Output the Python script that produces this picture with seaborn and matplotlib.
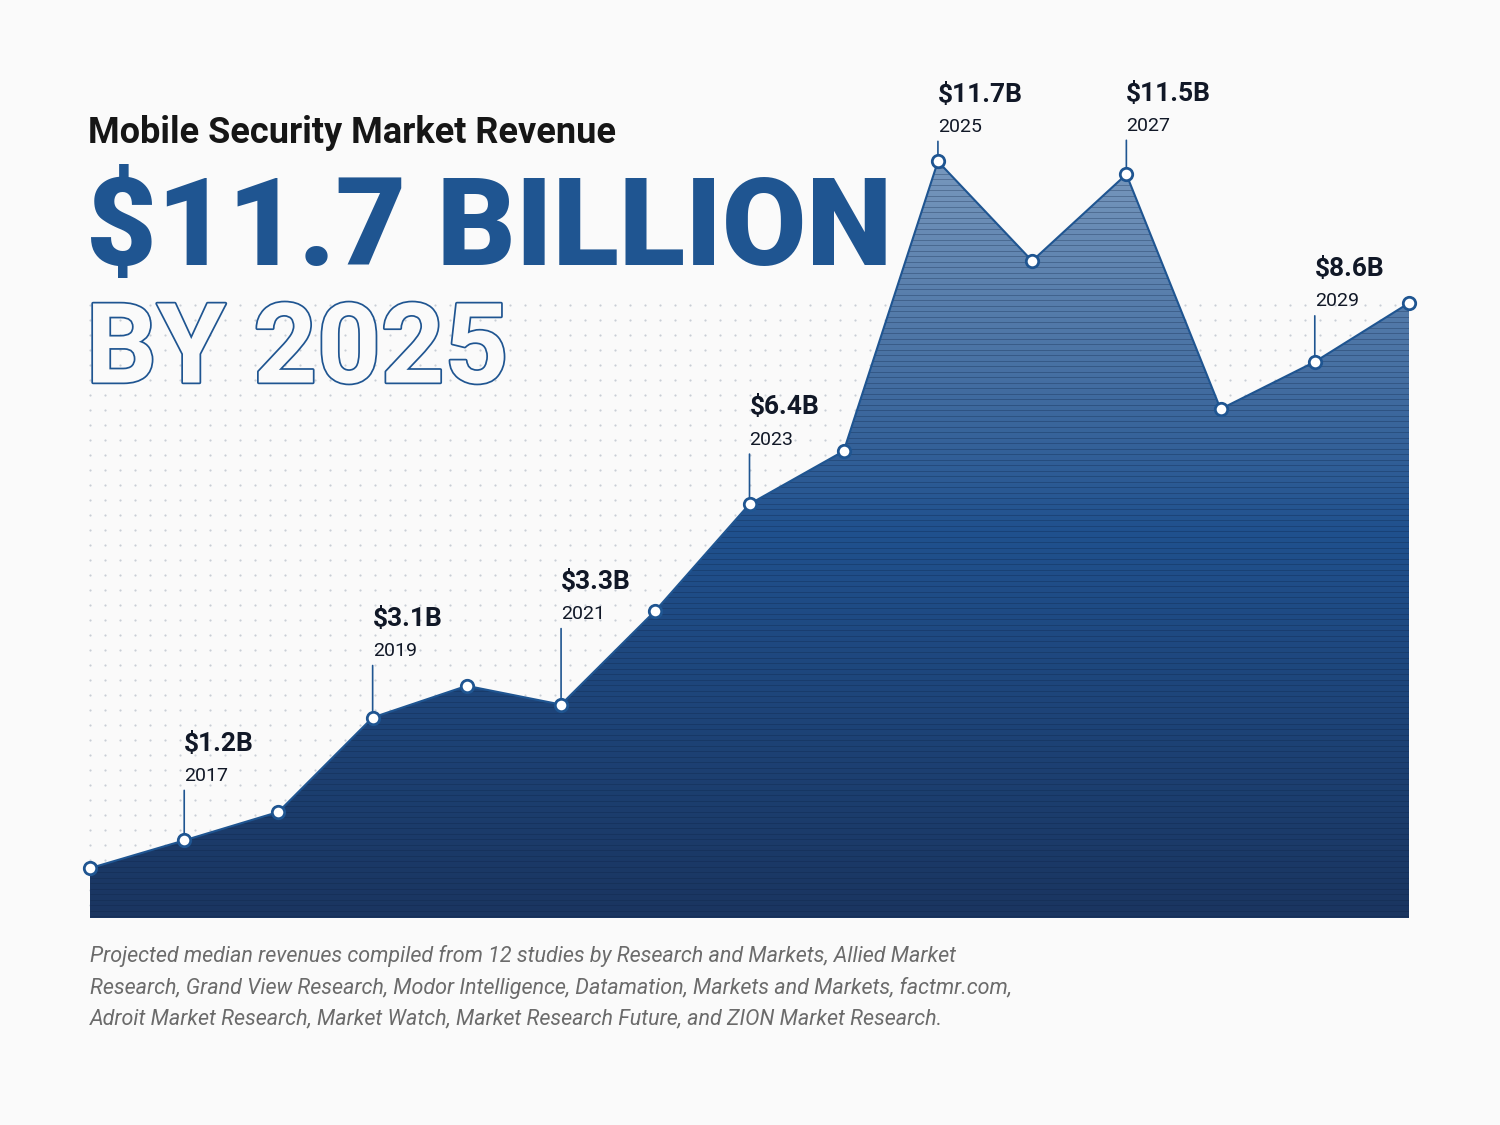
import numpy as np
import matplotlib.pyplot as plt
import matplotlib.patheffects as pe
from matplotlib.colors import LinearSegmentedColormap
import seaborn as sns

# data
years = list(range(2016, 2031))
revenue = [0.77, 1.2, 1.64, 3.1, 3.59, 3.3, 4.75, 6.4, 7.22, 11.7, 10.16, 11.5, 7.87, 8.6, 9.51]
label_years = [2017, 2019, 2021, 2023, 2025, 2027, 2029]
label_texts = ["$1.2B", "$3.1B", "$3.3B", "$6.4B", "$11.7B", "$11.5B", "$8.6B"]
stem_len = [50, 52, 76, 50, 20, 34, 46]  # px

sns.set_theme(style="white")
plt.rcParams['font.family'] = ['Roboto', 'DejaVu Sans']

bg = "#fafafa"
blue = "#1f5591"
dark = "#111827"

fig = plt.figure(figsize=(15, 11.25), dpi=100, facecolor=bg)
W, H = 1500, 1125
x0, x1, yb = 90, 1409, 918
ytop_val = 13.0
px_per = 64.67
ytop = yb - ytop_val * px_per

# dot grid background
dots = fig.add_axes([0, 0, 1, 1], facecolor="none")
dots.set_xlim(0, W); dots.set_ylim(H, 0); dots.axis("off")
gx, gy = np.meshgrid(np.arange(90, 1410, 15), np.arange(305, 915, 15))
dots.scatter(gx.ravel(), gy.ravel(), s=2.5, color="#c9ced6", lw=0)

ax = fig.add_axes([x0 / W, 1 - yb / H, (x1 - x0) / W, (yb - ytop) / H], facecolor="none")
ax.set_xlim(years[0], years[-1])
ax.set_ylim(0, ytop_val)
ax.axis("off")

# gradient fill clipped to area
cmap = LinearSegmentedColormap.from_list("g", ["#1a3560", "#20518e", "#7d9cc0"])
grad = np.linspace(0, 1, 256).reshape(-1, 1)
img = ax.imshow(grad, extent=[years[0], years[-1], 0, 12], origin="lower",
                aspect="auto", cmap=cmap, zorder=1)
poly = ax.fill_between(years, revenue, 0, color="none", lw=0)
clip = poly.get_paths()[0]
img.set_clip_path(clip, transform=ax.transData)
# thin horizontal stripes
stripes = ax.hlines(np.arange(0.03, 12, 0.085), years[0], years[-1],
                    color="#0d2344", lw=0.6, alpha=0.35, zorder=2)
stripes.set_clip_path(clip, transform=ax.transData)

sns.lineplot(x=years, y=revenue, ax=ax, color=blue, lw=1.5, zorder=3)
ax.scatter(years, revenue, s=80, facecolor="white", edgecolor=blue, lw=2, zorder=5, clip_on=False)

for yr, txt, L in zip(label_years, label_texts, stem_len):
    v = revenue[years.index(yr)]
    ax.annotate("", xy=(yr, v), xytext=(0, L * 0.72), textcoords="offset points",
                xycoords="data", arrowprops=dict(arrowstyle="-", color=blue, lw=1.2,
                                                 shrinkA=0, shrinkB=5), zorder=4)
    ax.annotate(str(yr), xy=(yr, v), xytext=(0, L * 0.72 + 4), textcoords="offset points",
                ha="left", va="bottom", fontsize=14, color=dark, zorder=6)
    ax.annotate(txt, xy=(yr, v), xytext=(0, L * 0.72 + 25), textcoords="offset points",
                ha="left", va="bottom", fontsize=19, fontweight="bold", color=dark, zorder=6)

fig.text(88 / W, 1 - 133 / H, "Mobile Security Market Revenue", fontsize=26,
         fontweight="bold", color="#161616", va="center", ha="left")
fig.text(86 / W, 1 - 232 / H, "$11.7 BILLION", fontsize=88, fontweight="black",
         color=blue, va="center", ha="left")
t = fig.text(86 / W, 1 - 352 / H, "BY 2025", fontsize=80, fontweight="bold",
             color=bg, va="center", ha="left")
t.set_path_effects([pe.Stroke(linewidth=2.5, foreground=blue), pe.Normal()])

foot = ("Projected median revenues compiled from 12 studies by Research and Markets, Allied Market\n"
        "Research, Grand View Research, Modor Intelligence, Datamation, Markets and Markets, factmr.com,\n"
        "Adroit Market Research, Market Watch, Market Research Future, and ZION Market Research.")
fig.text(90 / W, 1 - 945 / H, foot, fontsize=15.5, style="italic", color="#6b6b6b",
         va="top", ha="left", linespacing=1.6)

fig.savefig("out.png", dpi=100, facecolor=bg)
